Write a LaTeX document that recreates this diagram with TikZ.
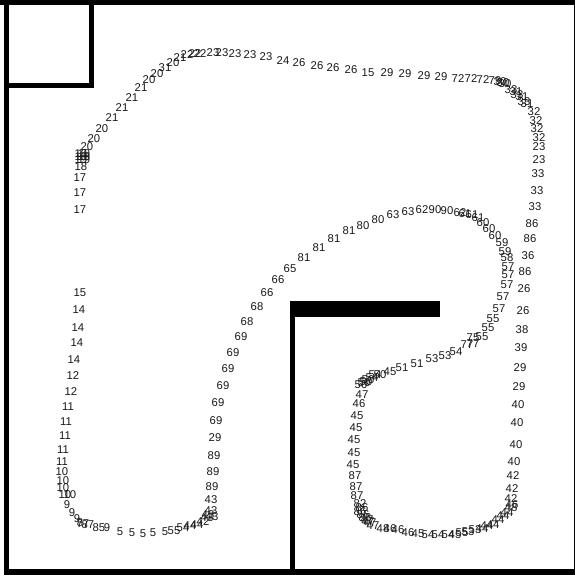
\documentclass[tikz,border=0pt]{standalone}
\usepackage{fontspec}
\setmainfont{Liberation Sans}
\tikzset{wall/.style={fill=black,draw=none},lab/.style={inner sep=0pt,font=\fontsize{11.3}{11.3}\selectfont,text=black!90}}
\begin{document}
\begin{tikzpicture}[x=1pt,y=-1pt]
\useasboundingbox (0,0) rectangle (575,575);
\fill[white] (0,0) rectangle (575,575);
\fill[wall] (0,0) rectangle (575,5);
\fill[wall] (4,0) rectangle (9,575);
\fill[wall] (574,0) rectangle (575,575);
\fill[wall] (4,569) rectangle (575,575);
\fill[wall] (89,0) rectangle (94,88);
\fill[wall] (4,83) rectangle (94,88);
\fill[wall] (289.5,301) rectangle (440,317);
\fill[wall] (289.5,301) rectangle (295,575);
\foreach \x/\y/\t [count=\i] in {
80/210/17,80/193/17,80/178/17,81/167/18,81/160/19,84/160/19,81/157/19,84/157/19,81/154/19,84/154/19,
87/147/20,94/139/20,102/129/20,112/118/21,122/108/21,132/98/21,141/88/21,149/80/20,157/74/20,
165/68/31,173/63/20,180/58/21,187/55/22,195/54/22,200/54/22,213/53/23,222/53/23,235/54/23,250/55/23,266/57/23,283/61/24,
299/63/26,317/66/26,333/68/26,351/70/26,368/73/15,387/73/29,405/74/29,424/76/29,441/77/29,458/79/72,471/79/72,483/80/72,495/81/79,
500/82/30,503/83/30,505/84/30,511/90/33,516/92/31,517/95/33,522/97/31,524/102/33,527/104/31,
534/112/32,536/121/32,537/129/32,539/138/32,539/147/23,539/160/23,538/174/33,537/191/33,535/207/33,532/224/86,530/239/86,528/256/36,525/272/86,524/289/26,523/311/26,522/330/38,521/348/39,520/368/29,519/387/29,518/405/40,517/423/40,516/445/40,514/462/40,513/476/42,512/489/42,511/499/42,512/505/46,511/508/48,
507/513/44,503/516/44,498/520/44,493/525/44,487/526/44,482/529/44,475/530/53,468/532/53,462/533/55,455/535/45,448/535/54,438/535/54,428/535/54,418/534/45,408/533/46,398/530/46,390/529/46,383/529/48,373/526/47,370/523/47,368/522/47,367/520/47,365/518/86,363/515/86,360/512/86,362/508/86,360/504/82,357/496/87,356/487/87,355/476/87,353/465/45,354/453/45,354/440/45,356/428/45,357/416/45,359/404/46,362/395/47,
361/385/50,364/383/50,366/382/50,368/380/50,372/378/54,375/375/54,380/375/50,390/372/45,402/368/51,417/364/51,432/359/53,445/356/53,456/352/54,467/345/77,473/344/77,473/338/75,482/337/55,488/328/55,493/319/55,499/309/57,503/297/57,507/285/57,508/275/57,508/267/57,507/258/58,505/252/59,502/243/59,495/236/60,489/229/60,483/223/60,478/218/61,472/215/61,465/214/61,460/213/62,447/211/90,435/210/90,422/210/62,408/212/63,393/215/63,378/220/80,363/226/80,349/231/81,334/239/81,319/248/81,304/258/81,290/269/65,278/280/66,267/293/66,257/307/68,247/322/68,241/337/69,233/353/69,228/369/69,223/386/69,218/403/69,216/421/69,215/438/29,
214/456/89,213/472/89,212/487/89,211/500/43,211/511/43,212/517/43,208/515/43,207/518/43,203/522/42,197/525/44,190/526/44,183/528/54,174/531/55,165/532/5,153/533/5,143/534/5,132/533/5,120/532/5,107/528/9,99/528/85,88/525/87,83/524/77,80/523/8,77/519/9,72/513/9,67/505/9,70/495/10,65/495/10,63/488/10,63/481/10,62/472/10,62/462/11,63/450/11,65/436/11,66/422/11,68/407/11,71/392/12,73/376/12,74/360/14,77/343/14,78/328/14,79/310/14,80/293/15}
  \node[lab] (n\i) at (\x,\y) {\t};
\end{tikzpicture}
\end{document}
